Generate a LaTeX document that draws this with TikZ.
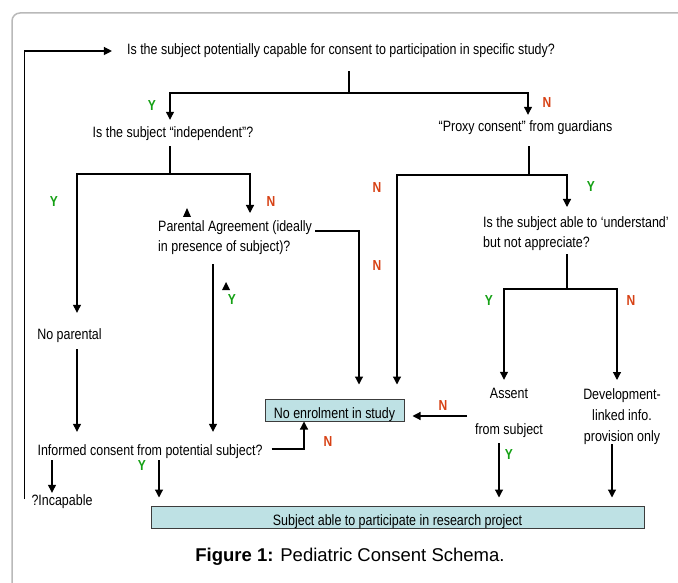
\documentclass[tikz,border=0pt]{standalone}
\usepackage{fontspec}
\setmainfont{Liberation Sans}[FakeStretch=0.83]
\newfontfamily\captionfont{Liberation Sans}
\usetikzlibrary{arrows.meta}

\definecolor{ygreen}{RGB}{20,160,20}
\definecolor{nred}{RGB}{215,65,20}
\definecolor{boxfill}{RGB}{190,225,228}
\definecolor{boxline}{RGB}{60,60,60}
\definecolor{framegray}{RGB}{185,185,185}

\tikzset{
  txt/.style={inner sep=0pt, font=\fontsize{15}{20}\selectfont, text height=11pt, text depth=3pt},
  mtxt/.style={inner sep=0pt, font=\fontsize{15}{20}\selectfont, align=left},
  ylab/.style={inner sep=0pt, text=ygreen, font=\fontsize{14.5}{14}\selectfont\bfseries},
  nlab/.style={inner sep=0pt, text=nred, font=\fontsize{14.5}{14}\selectfont\bfseries},
  cbox/.style={draw=boxline, fill=boxfill, line width=1pt, inner sep=0pt, minimum height=22pt,
    font=\fontsize{15}{15}\selectfont, text height=16pt, text depth=0pt},
  line/.style={line width=1.2pt},
  arr/.style={line, -{Triangle[length=8pt,width=8pt]}}
}

\begin{document}
\begin{tikzpicture}[x=1pt,y=-1pt]
\useasboundingbox (0,0) rectangle (678,583);
\clip (0,0) rectangle (678,583);
\draw[framegray, line width=1.5pt, rounded corners=8pt] (12,13) rectangle (700,620);

% texts
\node[txt] (capable) at (341,51) {Is the subject potentially capable for consent to participation in specific study?};
\node[txt] (indep) at (173,134) {Is the subject “independent”?};
\node[txt] (proxy) at (525.5,128) {“Proxy consent” from guardians};
\node[mtxt, anchor=north west] (parental) at (158,220) {Parental Agreement (ideally\\in presence of subject)?};
\node[mtxt, anchor=north west] (understand) at (483,216) {Is the subject able to ‘understand’\\but not appreciate?};
\node[txt] (noparent) at (69.5,335) {No parental};
\node[txt] (assent) at (509,394) {Assent};
\node[txt] (fromsubj) at (509,430) {from subject};
\node[mtxt, align=center, anchor=north, font=\fontsize{15}{21}\selectfont] (devel) at (622,388) {Development-\\linked info.\\provision only};
\node[txt] (informed) at (150,451) {Informed consent from potential subject?};
\node[txt] (incap) at (62,501) {?Incapable};
\node[cbox, minimum width=139pt] (noenrol) at (334.5,410) {No enrolment in study};
\node[cbox, minimum width=493pt] (able) at (397.5,517) {Subject able to participate in research project};
\node[inner sep=0pt, font=\captionfont\fontsize{18.5}{20}\selectfont] (caption) at (350,557) {\textbf{Figure 1:} Pediatric Consent Schema.};

% Y / N labels
\node[ylab] (yIndep) at (152,106) {Y};
\node[nlab] (nProxy) at (547,103) {N};
\node[ylab] (yNoParent) at (54,202) {Y};
\node[nlab] (nParental) at (271,202) {N};
\node[nlab] (nGuardian) at (377,188) {N};
\node[ylab] (yUnderstand) at (591,187) {Y};
\node[nlab] (nAgree) at (377,266) {N};
\node[ylab] (yAgree) at (232,300) {Y};
\node[ylab] (yAssent) at (489,301) {Y};
\node[nlab] (nDevel) at (631,301) {N};
\node[nlab] (nAssent) at (443,406) {N};
\node[nlab] (nInformed) at (328,442) {N};
\node[ylab] (yInformed) at (142,466) {Y};
\node[ylab] (yFromSubj) at (509,455) {Y};

% fork points
\coordinate (f1) at (349,93);
\coordinate (f2) at (170,174);
\coordinate (f3) at (529,175);
\coordinate (f4) at (567,289);

% loop back to top
\draw[arr] ([shift={(-7pt,2pt)}]incap.west) |- ([xshift=-15pt]capable.west);

% first question
\draw[line] ([yshift=-13pt]capable.south -| f1) -- (f1);
\draw[arr] (f1) -| ([shift={(-3pt,7pt)}]indep.north);
\draw[arr] (f1) -| ([shift={(2.5pt,6pt)}]proxy.north);

% independent?
\draw[line] ([yshift=-5pt]indep.south -| f2) -- (f2);
\draw[arr] (f2) -| ([shift={(7.5pt,15pt)}]noparent.north);
\draw[arr] (f2) -| ([shift={(92pt,7pt)}]parental.north west);
\fill (183,217) -- (191,217) -- (187,208) -- cycle;
\fill (222,290) -- (230,290) -- (226,282) -- cycle;

% parental agreement
\draw[arr] ([shift={(157pt,-11pt)}]parental.north west) -| ([shift={(24.5pt,14pt)}]noenrol.north);
\draw[arr] ([shift={(55pt,-44pt)}]parental.north west) -- ([shift={(63pt,12pt)}]informed.north);
\draw[arr] ([shift={(7.5pt,-7pt)}]noparent.south) -- ([shift={(-73pt,12pt)}]informed.north);

% proxy consent
\draw[line] ([yshift=-11pt]proxy.south -| f3) -- (f3);
\draw[arr] (f3) -| ([shift={(62.5pt,14pt)}]noenrol.north);
\draw[arr] (f3) -| ([shift={(84pt,9pt)}]understand.north west);

% understand?
\draw[line] ([yshift=-4pt]understand.south -| f4) -- (f4);
\draw[arr] (f4) -| ([shift={(-5pt,7pt)}]assent.north);
\draw[arr] (f4) -| ([shift={(-5pt,8pt)}]devel.north);
\draw[arr] ([shift={(-42pt,-22pt)}]assent.center) -- ([shift={(8pt,-6pt)}]noenrol.east);
\draw[arr] ([shift={(-10pt,-6pt)}]fromsubj.south) -- ([shift={(101.5pt,8pt)}]able.north);
\draw[arr] ([xshift=-10pt]devel.south) -- ([shift={(214.5pt,8pt)}]able.north);

% informed consent
\draw[arr] ([shift={(9pt,2pt)}]informed.east) -| ([xshift=-30.5pt]noenrol.south);
\draw[arr] ([shift={(9pt,-2pt)}]informed.south) -- ([shift={(-238.5pt,8pt)}]able.north);
\draw[arr] ([shift={(-98pt,-2pt)}]informed.south) -- ([shift={(-10pt,1pt)}]incap.north);
\end{tikzpicture}
\end{document}
